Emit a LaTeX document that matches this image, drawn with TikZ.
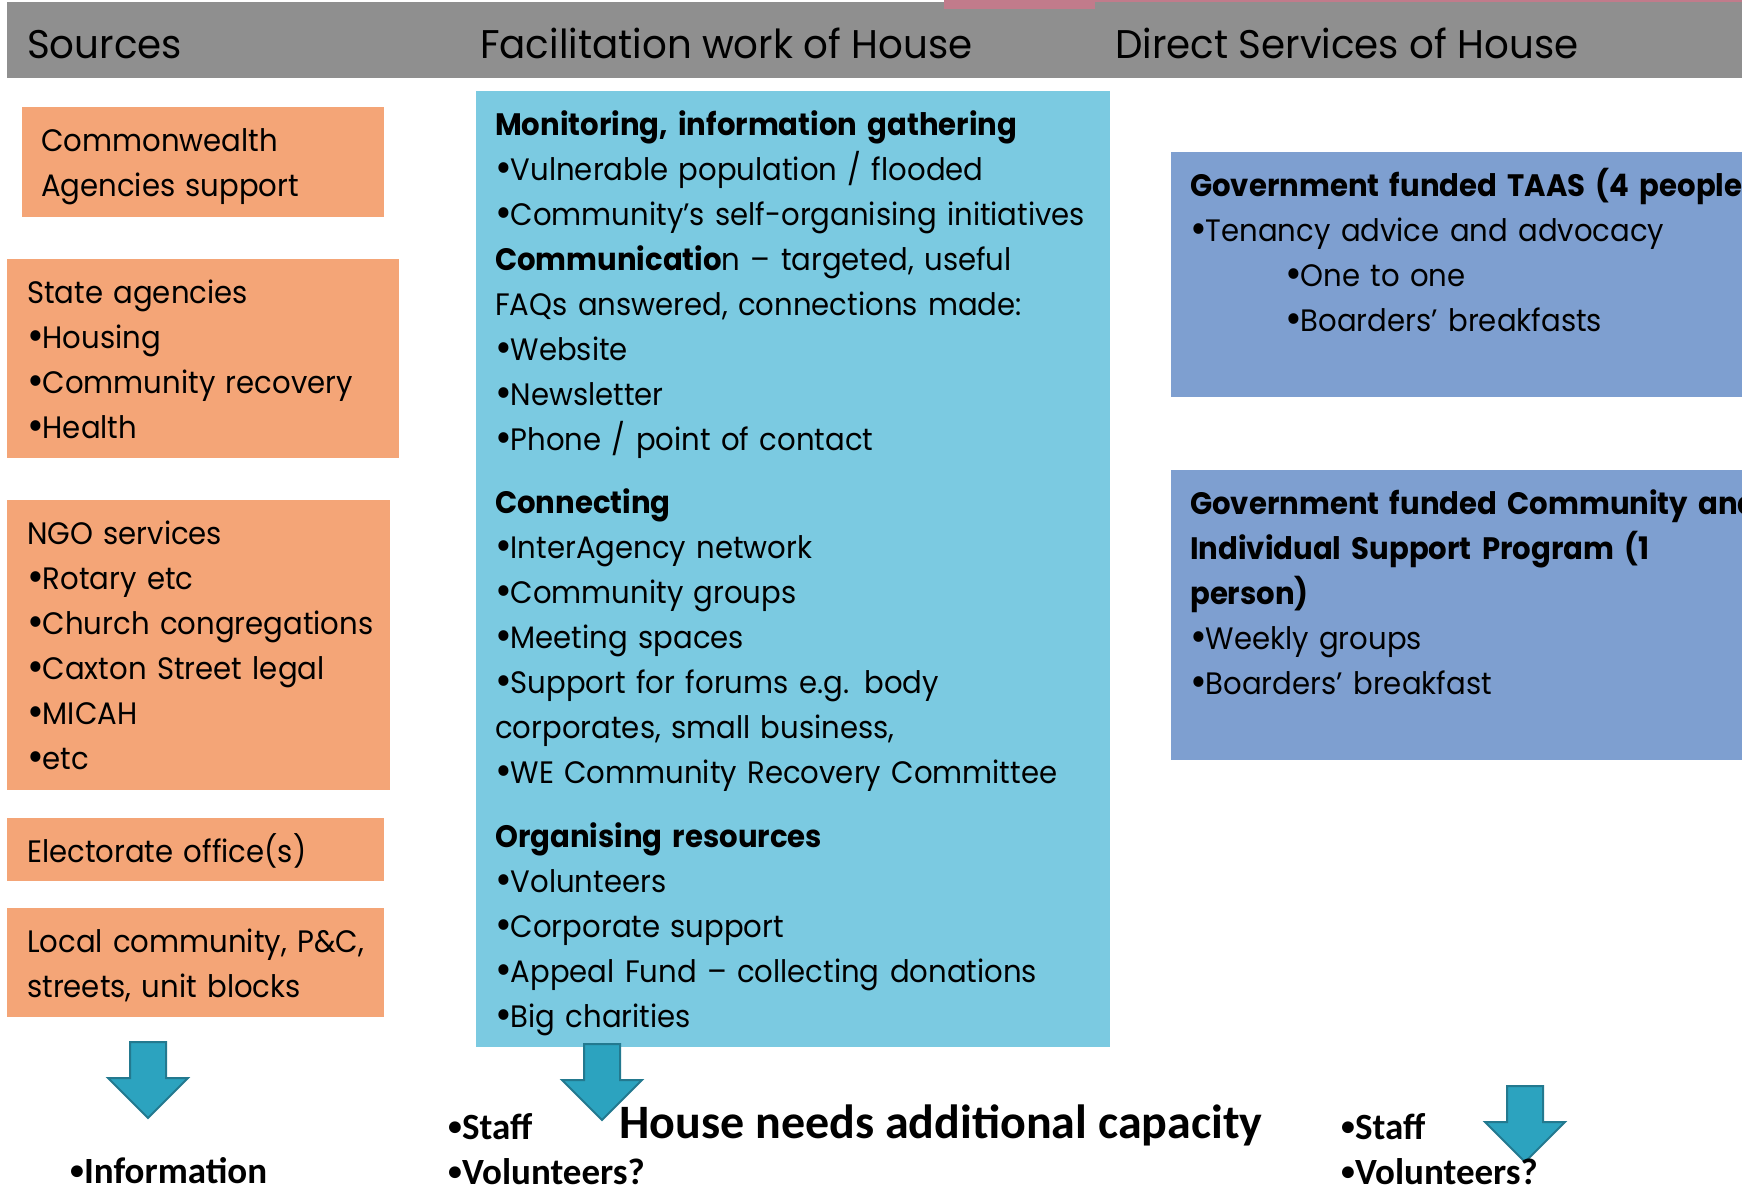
\documentclass[tikz,border=0pt]{standalone}
\usepackage{fontspec}
\setmainfont{Poppins}[FakeStretch=0.94]
\newfontfamily\headfont{Poppins}[FakeStretch=0.97]
\newfontfamily\calfont{Carlito}
\newcommand\bul{\raisebox{-0.07em}{\scalebox{1.4}{•}}\kern-0.04em}
\newcommand\calbul{\raisebox{0.09em}{\scalebox{0.75}{•}}}
\definecolor{headgray}{HTML}{8F8F8F}
\definecolor{headpink}{HTML}{C17B8B}
\definecolor{srcorange}{HTML}{F4A577}
\definecolor{faccyan}{HTML}{7BCAE1}
\definecolor{dirblue}{HTML}{7E9FD0}
\definecolor{arrowfill}{HTML}{2CA3BF}
\definecolor{arrowline}{HTML}{23798F}
\tikzset{
  headtext/.style={anchor=base west, inner sep=0pt, font=\headfont\fontsize{40}{45}\selectfont},
  boxtext/.style={anchor=base west, inner sep=0pt, align=left, text width=700pt, font=\fontsize{31}{45}\selectfont},
  needtext/.style={anchor=base west, inner sep=0pt, align=left, text width=400pt, font=\calfont\bfseries\fontsize{37}{45}\selectfont},
  downarrow/.style={fill=arrowfill, draw=arrowline, line width=2pt, line join=miter}
}
\begin{document}
\begin{tikzpicture}[x=1pt, y=1pt]
    \useasboundingbox (0,0) rectangle (1742,-1191);
    \clip (0,0) rectangle (1742,-1191);
    % Header
    \fill[headgray] (7,-2) rectangle (1742,-78);
    \fill[headpink] (944,0) rectangle (1095,-9);
    \fill[headpink] (1095,0) rectangle (1742,-2);
    \node[headtext] (hsrc) at (27,-58) {Sources};
    \node[headtext] (hfac) at (480,-58) {Facilitation work of House};
    \node[headtext] (hdir) at (1115,-58) {Direct Services of House};
    % Boxes: name/colour/left/top/right/bottom
    \foreach \nm/\col/\xa/\ya/\xb/\yb in {cw/srcorange/22/107/384/217, state/srcorange/7/259/399/458,
        ngo/srcorange/7/500/390/790, elect/srcorange/7/818/384/881, local/srcorange/7/908/384/1017,
        fac/faccyan/476/91/1110/1047, taas/dirblue/1171/152/1742/397, cisp/dirblue/1171/470/1742/760} {
        \fill[\col] (\xa,-\ya) rectangle (\xb,-\yb);
        \coordinate (\nm) at (\xa,-\ya);
    }
    % Sources
    \node[boxtext] (cwtext) at ([shift={(19,-44)}]cw) {Commonwealth\\Agencies support};
    \node[boxtext] (statetext) at ([shift={(20,-44)}]state) {State agencies\\\bul Housing\\\bul Community recovery\\\bul Health};
    \node[boxtext] (ngotext) at ([shift={(20,-44)}]ngo) {NGO services\\\bul Rotary etc\\\bul Church congregations\\\bul Caxton Street legal\\\bul MICAH\\\bul etc};
    \node[boxtext] (electtext) at ([shift={(20,-44)}]elect) {Electorate office(s)};
    \node[boxtext] (localtext) at ([shift={(20,-44)}]local) {Local community, P\&C,\\streets, unit blocks};
    % Facilitation work
    \node[boxtext] (factext) at ([shift={(19,-44)}]fac) {\textbf{Monitoring, information gathering}\\
        \bul Vulnerable population / flooded\\
        \bul Community’s self-organising initiatives\\
        \textbf{Communicatio}n – targeted, useful\\
        FAQs answered, connections made:\\
        \bul Website\\
        \bul Newsletter\\
        \bul Phone / point of contact\\[18pt]
        \textbf{Connecting}\\
        \bul InterAgency network\\
        \bul Community groups\\
        \bul Meeting spaces\\
        \bul Support for forums e.g. body\\
        corporates, small business,\\
        \bul WE Community Recovery Committee\\[19pt]
        \textbf{Organising resources}\\
        \bul Volunteers\\
        \bul Corporate support\\
        \bul Appeal Fund – collecting donations\\
        \bul Big charities};
    % Direct services
    \node[boxtext] (taastext) at ([shift={(19,-44)}]taas) {\textbf{Government funded TAAS (4 people)}\\
        \bul Tenancy advice and advocacy\\
        \hspace*{95pt}\bul One to one\\
        \hspace*{95pt}\bul Boarders’ breakfasts};
    \node[boxtext] (cisptext) at ([shift={(19,-44)}]cisp) {\textbf{Government funded Community and}\\
        \textbf{Individual Support Program (1}\\
        \textbf{person)}\\
        \bul Weekly groups\\
        \bul Boarders’ breakfast};
    % Arrows
    \foreach \ax/\ay in {148/1042, 602/1044, 1525/1086} {
        \draw[downarrow] (\ax-18,-\ay) -- (\ax+18,-\ay) -- (\ax+18,-\ay-36) -- (\ax+40,-\ay-36)
            -- (\ax,-\ay-76) -- (\ax-40,-\ay-36) -- (\ax-18,-\ay-36) -- cycle;
    }
    % Needs
    \node[needtext] (info) at (70,-1183) {\calbul Information};
    \node[needtext] (facneed) at (448,-1139) {\calbul Staff\\\calbul Volunteers?};
    \node[needtext] (dirneed) at (1341,-1139) {\calbul Staff\\\calbul Volunteers?};
    \node[anchor=base west, inner sep=0pt, font=\calfont\bfseries\fontsize{48}{50}\selectfont] (need) at (619,-1138) {House needs additional capacity};
\end{tikzpicture}
\end{document}
